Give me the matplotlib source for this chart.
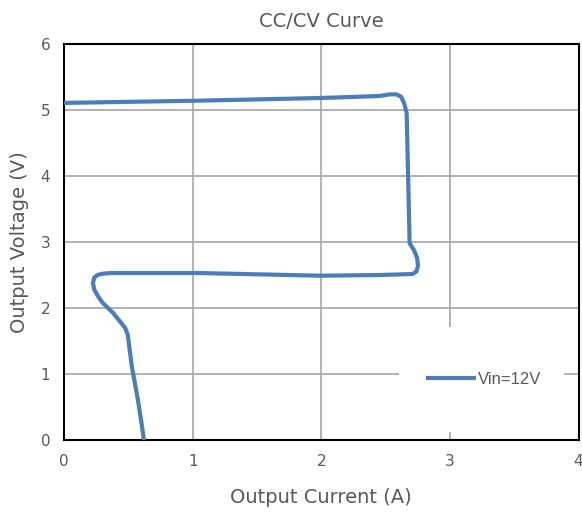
import numpy as np
import matplotlib.pyplot as plt
from matplotlib.patches import Rectangle

# CC/CV curve
current = [0.0, 1.05, 1.99, 2.45, 2.53, 2.585, 2.62, 2.645, 2.664, 2.687,
           2.72, 2.745, 2.752, 2.74, 2.71, 2.45, 1.99, 1.05, 0.36, 0.30,
           0.26, 0.235, 0.225, 0.235, 0.27, 0.30, 0.38, 0.45, 0.475, 0.495,
           0.528, 0.575, 0.614, 0.621]
voltage = [5.106, 5.14, 5.18, 5.21, 5.235, 5.235, 5.2, 5.1, 4.95, 2.98,
           2.88, 2.76, 2.64, 2.555, 2.515, 2.50, 2.49, 2.53, 2.53, 2.52,
           2.50, 2.46, 2.38, 2.28, 2.16, 2.08, 1.93, 1.76, 1.70, 1.60,
           1.106, 0.606, 0.106, 0.0]

grey = '#595959'
fig = plt.figure(figsize=(5.82, 5.16), dpi=100)
ax = fig.add_axes([0.110, 0.147, 0.884, 0.768])

ax.plot(current, voltage, color='#4a7ebb', lw=3, solid_joinstyle='round',
        solid_capstyle='butt', label='Vin=12V', zorder=3)

ax.set_xlim(0, 4)
ax.set_ylim(0, 6)
ax.set_xticks(np.arange(0, 5, 1))
ax.set_yticks(np.arange(0, 7, 1))
ax.grid(True, color='#a6a6a6', lw=1.2)
ax.set_axisbelow(True)
ax.tick_params(length=0, pad=10, labelsize=11, labelcolor=grey)
for s in ax.spines.values():
    s.set_color('black')
    s.set_linewidth(1.5)

ax.set_title('CC/CV Curve', fontsize=14, color=grey, pad=12)
ax.set_xlabel('Output Current (A)', fontsize=14, color=grey, labelpad=14)
ax.set_ylabel('Output Voltage (V)', fontsize=14, color=grey, labelpad=8)

# white legend area covering the grid
ax.add_patch(Rectangle((0.652, 0.020), 0.320, 0.265, transform=ax.transAxes,
                       facecolor='white', edgecolor='none', zorder=1))
leg = ax.legend(loc='center', bbox_to_anchor=(0.815, 0.153), frameon=False,
                prop={'family': 'Liberation Sans', 'size': 12},
                handlelength=3.0, handletextpad=0.1)
for t in leg.get_texts():
    t.set_color(grey)

fig.savefig('out.png', dpi=100)
